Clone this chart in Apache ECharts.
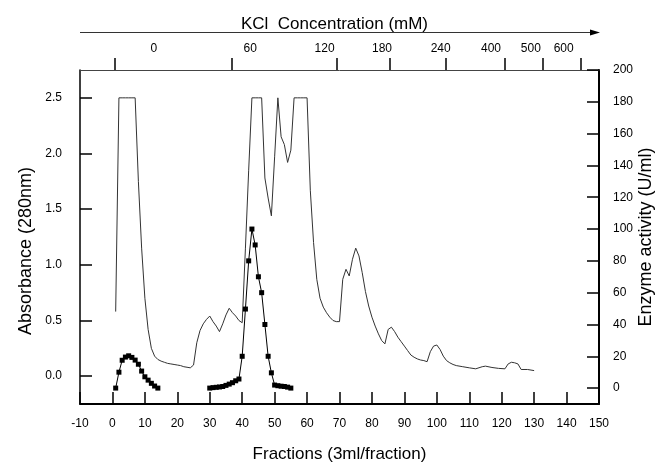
<!DOCTYPE html>
<html>
<head>
<meta charset="utf-8">
<script src="https://cdn.jsdelivr.net/npm/echarts@6/dist/echarts.min.js"></script>
<style>html,body{margin:0;padding:0;background:#fff;}#c{width:657px;height:464px;}</style>
</head>
<body>
<div id="c"></div>
<script>
// Absorbance (280 nm), left axis
const absFractions = [1,2,3,4,5,6,7,8,9,10,11,12,13,14,15,16,17,18,19,20,21,22,23,24,25,26,27,28,29,30,31,32,33,34,35,36,37,38,39,40,41,42,43,44,45,46,47,48,49,50,51,52,53,54,55,56,57,58,59,60,61,62,63,64,65,66,67,68,69,70,71,72,73,74,75,76,77,78,79,80,81,82,83,84,85,86,87,88,89,90,91,92,93,94,95,96,97,98,99,100,101,102,103,104,105,106,108,110,112,114,115,117,119,121,122,123,124,125,126,128,130];
const absValues = [0.58,2.5,2.5,2.5,2.5,2.5,2.5,1.75,1.15,0.7,0.42,0.25,0.18,0.15,0.135,0.125,0.115,0.11,0.105,0.1,0.095,0.085,0.08,0.075,0.1,0.3,0.41,0.47,0.51,0.54,0.49,0.45,0.4,0.47,0.55,0.61,0.57,0.54,0.5,0.48,1.15,1.85,2.5,2.5,2.5,2.5,1.78,1.6,1.44,1.97,2.5,2.15,2.08,1.92,2.03,2.5,2.5,2.5,2.5,2.5,1.67,1.2,0.87,0.7,0.62,0.57,0.53,0.5,0.49,0.49,0.87,0.96,0.9,1.05,1.15,1.08,0.93,0.76,0.63,0.53,0.45,0.38,0.32,0.29,0.42,0.44,0.4,0.35,0.31,0.27,0.23,0.19,0.17,0.155,0.145,0.14,0.13,0.22,0.27,0.28,0.24,0.18,0.14,0.12,0.105,0.095,0.085,0.075,0.066,0.085,0.09,0.078,0.07,0.066,0.11,0.125,0.12,0.11,0.06,0.06,0.05];

// Enzyme activity (U/ml), right axis; null = gap
const enzFractions = [1,2,3,4,5,6,7,8,9,10,11,12,13,14,15,30,31,32,33,34,35,36,37,38,39,40,41,42,43,44,45,46,47,48,49,50,51,52,53,54,55];
const enzValues = [0,10,17.5,19.5,20.3,19.3,17.6,15,10.7,7.1,5,3,1.3,0,null,0,0.3,0.5,0.7,1,1.7,2.5,3.4,4.6,5.7,20,49.7,80,100,90,70,60,40,20,9.6,1.9,1.5,1.2,1,0.6,0];

// KCl concentration axis (top)
const kclTickPos = [0.6,36.9,69.2,85.4,102.7,120.9,132.8,144.5];
const kclLabelPos = [12.8,42.5,65.4,83.1,101.2,116.7,129.0,139.1];
const kclLabels = ['0','60','120','180','240','400','500','600'];

// Axis tick labels
const leftTicks = [0,0.5,1,1.5,2,2.5];
const rightTicks = [0,20,40,60,80,100,120,140,160,180,200];

const FONT = 'Liberation Sans, Arial, sans-serif';
const lbl = {color:'#000', fontFamily:FONT, fontSize:12};

const chart = echarts.init(document.getElementById('c'), null, {renderer:'canvas'});
chart.setOption({
  animation:false,
  backgroundColor:'#fff',
  grid:{left:80, right:58, top:70, bottom:60, containLabel:false, outerBoundsMode:'none'},
  xAxis:[{
    type:'value', position:'bottom', min:-10, max:150, interval:10,
    axisLine:{show:true, onZero:false, lineStyle:{color:'#000', width:2}},
    axisTick:{show:true, inside:true, length:12, lineStyle:{color:'#000', width:1.5}},
    axisLabel:Object.assign({margin:14}, lbl),
    splitLine:{show:false},
    name:'Fractions (3ml/fraction)', nameLocation:'middle', nameGap:42, nameMoveOverlap:false,
    nameTextStyle:{color:'#000', fontFamily:FONT, fontSize:17}
  },{
    type:'value', position:'top', min:-10, max:150,
    axisLine:{show:true, onZero:false, lineStyle:{color:'#444', width:1}},
    axisTick:{show:true, inside:false, length:12, customValues:kclTickPos, lineStyle:{color:'#000', width:1.5}},
    axisLabel:Object.assign({margin:15, customValues:kclLabelPos, formatter:function(v){
      const i = kclLabelPos.findIndex(p => Math.abs(p - v) < 1e-6);
      return i >= 0 ? kclLabels[i] : '';
    }}, lbl),
    splitLine:{show:false},
    name:'KCl  Concentration (mM)', nameLocation:'middle', nameGap:37, nameMoveOverlap:false,
    nameTextStyle:{color:'#000', fontFamily:FONT, fontSize:17, padding:[0,10,0,0]}
  }],
  yAxis:[{
    type:'value', position:'left', min:-0.25, max:2.75,
    axisLine:{show:true, onZero:false, lineStyle:{color:'#000', width:1.5}},
    axisTick:{show:true, inside:true, length:12, customValues:leftTicks, lineStyle:{color:'#000', width:1.5}},
    axisLabel:Object.assign({margin:18, customValues:leftTicks, formatter:function(v){return v.toFixed(1);}}, lbl),
    splitLine:{show:false},
    name:'Absorbance (280nm)', nameLocation:'middle', nameGap:45, nameMoveOverlap:false,
    nameTextStyle:{color:'#000', fontFamily:FONT, fontSize:18, padding:[0,28,0,0]}
  },{
    type:'value', position:'right', min:-10, max:200,
    axisLine:{show:true, onZero:false, lineStyle:{color:'#000', width:2}},
    axisTick:{show:true, inside:true, length:12, customValues:rightTicks, lineStyle:{color:'#000', width:1.5}},
    axisLabel:Object.assign({margin:14, customValues:rightTicks}, lbl),
    splitLine:{show:false},
    name:'Enzyme activity (U/ml)', nameLocation:'middle', nameGap:38, nameMoveOverlap:false, nameRotate:90,
    nameTextStyle:{color:'#000', fontFamily:FONT, fontSize:18}
  }],
  graphic:[
    {type:'line', shape:{x1:80, y1:32.5, x2:592, y2:32.5}, style:{stroke:'#333', lineWidth:1}, silent:true},
    {type:'polygon', shape:{points:[[590,29.5],[600,32.5],[590,35.5]]}, style:{fill:'#000'}, silent:true}
  ],
  series:[{
    name:'Absorbance', type:'line', xAxisIndex:0, yAxisIndex:0,
    data:absFractions.map((f,i)=>[f, absValues[i]]),
    showSymbol:false, symbol:'none',
    lineStyle:{color:'#333', width:1}
  },{
    name:'Enzyme activity', type:'line', xAxisIndex:0, yAxisIndex:1,
    data:enzFractions.map((f,i)=>[f, enzValues[i]===null ? '-' : enzValues[i]]),
    symbol:'rect', symbolSize:5, connectNulls:false,
    itemStyle:{color:'#000'},
    lineStyle:{color:'#000', width:1}
  }]
});
</script>
</body>
</html>
